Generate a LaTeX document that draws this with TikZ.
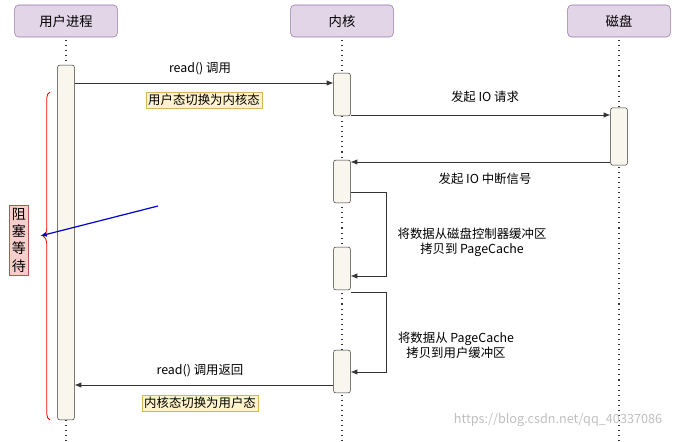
\documentclass[tikz,border=0pt]{standalone}
\usepackage{fontspec}
\setmainfont{Noto Sans CJK SC}
\usetikzlibrary{arrows.meta,decorations.pathreplacing}
\definecolor{hdr}{HTML}{E1D5E7}\definecolor{hdrd}{HTML}{9673A6}
\definecolor{act}{HTML}{F9F7ED}\definecolor{yel}{HTML}{FFF2CC}\definecolor{yeld}{HTML}{D6B656}
\definecolor{pk}{HTML}{F8CECC}\definecolor{pkd}{HTML}{B85450}
\begin{document}
\begin{tikzpicture}[x=0.75pt,y=-0.75pt,font=\fontsize{9.3}{11}\selectfont,
 hd/.style={draw=hdrd,fill=hdr,rounded corners=3pt,minimum width=77pt,minimum height=24pt,font=\fontsize{10}{12}\selectfont},
 ac/.style={draw=black!80,fill=act,rounded corners=1.5pt,minimum width=12.5pt,inner sep=0pt},
 ll/.style={black!80,line width=1pt,dash pattern=on 0.8pt off 3pt},
 msg/.style={-{Latex[length=5pt,width=4pt]},black!80,line width=0.6pt},
 yb/.style={draw=yeld,fill=yel,inner sep=1.5pt}]
\useasboundingbox (0,0) rectangle (688,442);
\node[hd] (u) at (66,21) {用户进程};
\node[hd] (k) at (342,21) {内核};
\node[hd] (d) at (619,21) {磁盘};
\draw[ll] (66,40) -- (66,65) (66,420) -- (66,442);
\draw[ll] (342,40) -- (342,442);
\draw[ll] (619,40) -- (619,442);
\node[ac,minimum height=266pt] (ua) at (66,242.5) {};
\node[ac,minimum height=32pt] (k1) at (342,94.5) {};
\node[ac,minimum height=32pt] (k2) at (342,181.5) {};
\node[ac,minimum height=32pt] (k3) at (342,268.5) {};
\node[ac,minimum height=32pt] (k4) at (342,371.5) {};
\node[ac,minimum height=43pt] (da) at (619,136.5) {};
\draw[msg] (ua.east|-0,83) -- (k1.west|-0,83);
\node (t1) at (200,69) {read() 调用};
\node[yb] (y1) at (204,100) {用户态切换为内核态};
\draw[msg] (k1.east|-0,115) -- (da.west|-0,115);
\node (t2) at (485,97) {发起 IO 请求};
\draw[msg] (da.west|-0,162) -- (k2.east|-0,162);
\node (t3) at (485,179) {发起 IO 中断信号};
\draw[msg] (k2.east|-0,192) -- (386,192) -- (386,276) -- (k3.east|-0,276);
\node[align=center] (t4) at (472,242) {将数据从磁盘控制器缓冲区\\拷贝到 PageCache};
\draw[msg] (k3.east|-0,292) -- (386,292) -- (386,372) -- (k4.east|-0,372);
\node[align=center] (t5) at (456,345) {将数据从 PageCache\\拷贝到用户缓冲区};
\draw[msg] (k4.west|-0,385) -- (ua.east|-0,385);
\node (t6) at (200,371) {read() 调用返回};
\node[yb] (y2) at (200,403) {内核态切换为用户态};
\draw[red,line width=0.6pt,decorate,decoration={brace,amplitude=5pt,mirror,aspect=0.44}] (50,92) -- (50,420);
\coordinate (bt) at (40,236);
\node[draw=pkd,fill=pk,align=center,inner sep=2pt,font=\fontsize{10.5}{13}\selectfont] (bw) at (19,240) {阻\\塞\\等\\待};
\coordinate (bs) at (158,206);
\draw[-{Latex[length=5pt]},blue!80!black,line width=0.9pt] (bs) -- (bt);
\node[black!25,font=\fontsize{9.5}{10}\selectfont] (wm) at (558,420) {https://blog.csdn.net/qq\_40337086};
\end{tikzpicture}
\end{document}
